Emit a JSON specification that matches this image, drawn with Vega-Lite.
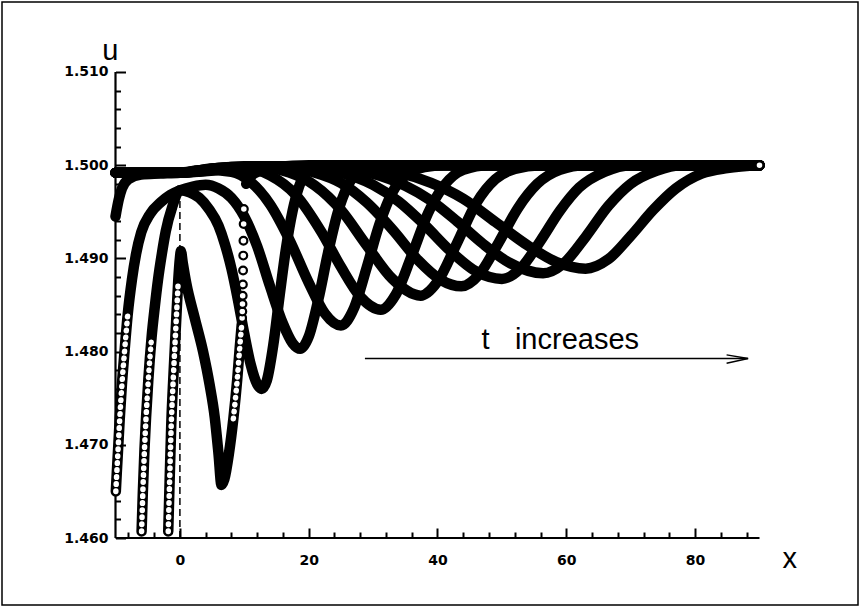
{
  "$schema": "https://vega.github.io/schema/vega-lite/v6.json",
  "width": 856,
  "height": 603,
  "autosize": "none",
  "padding": {"left": 2, "top": 2, "right": 3, "bottom": 3},
  "background": "white",
  "config": {
    "view": {"stroke": "black", "strokeWidth": 1.5},
    "axis": {"domain": false, "grid": false, "tickColor": "black", "labelColor": "black", "labelFont": "DejaVu Sans", "labelFontWeight": "bold", "labelFontSize": 14, "labelFlush": false, "labelOverlap": false, "title": null}
  },
  "datasets": {
    "curves": [
      {"s":"C1a","x":-1.81,"u":1.4607},{"s":"C1a","x":-1.6,"u":1.466},{"s":"C1a","x":-1.35,"u":1.472},{"s":"C1a","x":-1.0,"u":1.4775},{"s":"C1a","x":-0.6,"u":1.483},{"s":"C1a","x":-0.25,"u":1.4877},{"s":"C1a","x":0,"u":1.49},{"s":"C1a","x":0.15,"u":1.4908},{"s":"C1a","x":0.45,"u":1.4895},{"s":"C1a","x":1.0,"u":1.4873},{"s":"C1a","x":2.3,"u":1.4836},{"s":"C1a","x":3.6,"u":1.48},{"s":"C1a","x":4.6,"u":1.4765},{"s":"C1a","x":5.4,"u":1.473},{"s":"C1a","x":6.0,"u":1.469},{"s":"C1a","x":6.45,"u":1.4657},{"s":"C1a","x":6.9,"u":1.4663},{"s":"C1a","x":7.6,"u":1.469},{"s":"C1a","x":8.3,"u":1.4728},{"s":"C1a","x":8.9,"u":1.477},{"s":"C1a","x":9.3,"u":1.4805},{"s":"C1a","x":9.6,"u":1.4829},
      {"s":"C1b","x":10.3,"u":1.498},{"s":"C1b","x":11,"u":1.4988},{"s":"C1b","x":12.5,"u":1.4994},{"s":"C1b","x":15,"u":1.4998},{"s":"C1b","x":20,"u":1.5},{"s":"C1b","x":90,"u":1.5},
      {"s":"C2","x":-5.95,"u":1.4607},{"s":"C2","x":-5.75,"u":1.465},{"s":"C2","x":-5.5,"u":1.4695},{"s":"C2","x":-5.25,"u":1.473},{"s":"C2","x":-4.9,"u":1.477},{"s":"C2","x":-4.4,"u":1.4815},{"s":"C2","x":-3.9,"u":1.4848},{"s":"C2","x":-3.4,"u":1.4877},{"s":"C2","x":-2.8,"u":1.4905},{"s":"C2","x":-2.2,"u":1.4929},{"s":"C2","x":-1.2,"u":1.4955},{"s":"C2","x":0,"u":1.4973},{"s":"C2","x":1.5,"u":1.4971},{"s":"C2","x":3,"u":1.4965},{"s":"C2","x":4.5,"u":1.4953},{"s":"C2","x":6,"u":1.4935},{"s":"C2","x":7,"u":1.4915},{"s":"C2","x":8,"u":1.4889},{"s":"C2","x":9,"u":1.4856},{"s":"C2","x":10,"u":1.4819},{"s":"C2","x":11,"u":1.4786},{"s":"C2","x":12,"u":1.4765},{"s":"C2","x":12.7,"u":1.476},{"s":"C2","x":13.5,"u":1.4769},{"s":"C2","x":14.5,"u":1.4807},{"s":"C2","x":15.5,"u":1.4861},{"s":"C2","x":16.5,"u":1.4912},{"s":"C2","x":17.5,"u":1.4951},{"s":"C2","x":18.5,"u":1.4977},{"s":"C2","x":20,"u":1.4994},{"s":"C2","x":22,"u":1.4999},{"s":"C2","x":25,"u":1.5},{"s":"C2","x":90,"u":1.5},
      {"s":"C3","x":-9.95,"u":1.465},{"s":"C3","x":-9.8,"u":1.467},{"s":"C3","x":-9.6,"u":1.4695},{"s":"C3","x":-9.35,"u":1.4727},{"s":"C3","x":-9.0,"u":1.4765},{"s":"C3","x":-8.6,"u":1.48},{"s":"C3","x":-8.1,"u":1.484},{"s":"C3","x":-7.45,"u":1.4877},{"s":"C3","x":-6.8,"u":1.4905},{"s":"C3","x":-6.0,"u":1.4928},{"s":"C3","x":-4.6,"u":1.4948},{"s":"C3","x":-3,"u":1.496},{"s":"C3","x":-1.5,"u":1.4968},{"s":"C3","x":0,"u":1.4973},{"s":"C3","x":2,"u":1.4977},{"s":"C3","x":4,"u":1.4979},{"s":"C3","x":6,"u":1.4975},{"s":"C3","x":8,"u":1.4965},{"s":"C3","x":10,"u":1.4945},{"s":"C3","x":12,"u":1.4913},{"s":"C3","x":14,"u":1.4870},{"s":"C3","x":16,"u":1.483},{"s":"C3","x":17.5,"u":1.4809},{"s":"C3","x":18.7,"u":1.4803},{"s":"C3","x":20,"u":1.4816},{"s":"C3","x":21.5,"u":1.4856},{"s":"C3","x":23,"u":1.4906},{"s":"C3","x":24.5,"u":1.4949},{"s":"C3","x":26,"u":1.4977},{"s":"C3","x":28,"u":1.4994},{"s":"C3","x":31,"u":1.5},{"s":"C3","x":90,"u":1.5},
      {"s":"C4","x":-10,"u":1.4945},{"s":"C4","x":-9.5,"u":1.4963},{"s":"C4","x":-9,"u":1.4975},{"s":"C4","x":-8,"u":1.4985},{"s":"C4","x":-6,"u":1.499},{"s":"C4","x":-3,"u":1.4991},{"s":"C4","x":0,"u":1.4992},{"s":"C4","x":4,"u":1.4995},{"s":"C4","x":8,"u":1.4993},{"s":"C4","x":11,"u":1.4982},{"s":"C4","x":14,"u":1.4958},{"s":"C4","x":17,"u":1.4920},{"s":"C4","x":20,"u":1.4874},{"s":"C4","x":22.5,"u":1.4841},{"s":"C4","x":25,"u":1.4828},{"s":"C4","x":27,"u":1.4846},{"s":"C4","x":29,"u":1.489},{"s":"C4","x":31,"u":1.4937},{"s":"C4","x":33,"u":1.4971},{"s":"C4","x":35,"u":1.4989},{"s":"C4","x":38,"u":1.4998},{"s":"C4","x":41,"u":1.5},{"s":"C4","x":90,"u":1.5},
      {"s":"C5","x":-10,"u":1.4992},{"s":"C5","x":0,"u":1.4992},{"s":"C5","x":6,"u":1.4997},{"s":"C5","x":10,"u":1.4997},{"s":"C5","x":14,"u":1.4989},{"s":"C5","x":18,"u":1.4968},{"s":"C5","x":22,"u":1.4928},{"s":"C5","x":25,"u":1.4891},{"s":"C5","x":28,"u":1.4859},{"s":"C5","x":31.2,"u":1.4845},{"s":"C5","x":33.5,"u":1.4861},{"s":"C5","x":36,"u":1.4903},{"s":"C5","x":38.5,"u":1.4948},{"s":"C5","x":41,"u":1.4978},{"s":"C5","x":44,"u":1.4995},{"s":"C5","x":48,"u":1.5},{"s":"C5","x":90,"u":1.5},
      {"s":"C6","x":-10,"u":1.4992},{"s":"C6","x":0,"u":1.4992},{"s":"C6","x":6,"u":1.4997},{"s":"C6","x":12,"u":1.4998},{"s":"C6","x":17,"u":1.4992},{"s":"C6","x":21,"u":1.4978},{"s":"C6","x":25,"u":1.4952},{"s":"C6","x":29,"u":1.4914},{"s":"C6","x":33,"u":1.4878},{"s":"C6","x":37.4,"u":1.486},{"s":"C6","x":40,"u":1.4875},{"s":"C6","x":43,"u":1.4916},{"s":"C6","x":46,"u":1.4959},{"s":"C6","x":49,"u":1.4985},{"s":"C6","x":52,"u":1.4996},{"s":"C6","x":56,"u":1.5},{"s":"C6","x":90,"u":1.5},
      {"s":"C7","x":-10,"u":1.4992},{"s":"C7","x":0,"u":1.4992},{"s":"C7","x":8,"u":1.4998},{"s":"C7","x":16,"u":1.4998},{"s":"C7","x":21,"u":1.4992},{"s":"C7","x":25,"u":1.4981},{"s":"C7","x":29,"u":1.496},{"s":"C7","x":33,"u":1.4931},{"s":"C7","x":37,"u":1.4898},{"s":"C7","x":40.5,"u":1.4877},{"s":"C7","x":43.7,"u":1.487},{"s":"C7","x":46.5,"u":1.4883},{"s":"C7","x":49.5,"u":1.4917},{"s":"C7","x":52.5,"u":1.4954},{"s":"C7","x":55.5,"u":1.498},{"s":"C7","x":59,"u":1.4995},{"s":"C7","x":63,"u":1.5},{"s":"C7","x":90,"u":1.5},
      {"s":"C8","x":-10,"u":1.4992},{"s":"C8","x":0,"u":1.4992},{"s":"C8","x":10,"u":1.4999},{"s":"C8","x":20,"u":1.4998},{"s":"C8","x":25,"u":1.4992},{"s":"C8","x":30,"u":1.4979},{"s":"C8","x":34,"u":1.4961},{"s":"C8","x":38,"u":1.4936},{"s":"C8","x":42,"u":1.4908},{"s":"C8","x":46,"u":1.4886},{"s":"C8","x":50,"u":1.4878},{"s":"C8","x":53,"u":1.489},{"s":"C8","x":56,"u":1.4919},{"s":"C8","x":59,"u":1.4951},{"s":"C8","x":62,"u":1.4976},{"s":"C8","x":66,"u":1.4993},{"s":"C8","x":70,"u":1.5},{"s":"C8","x":90,"u":1.5},
      {"s":"C9","x":-10,"u":1.4992},{"s":"C9","x":0,"u":1.4992},{"s":"C9","x":12,"u":1.4999},{"s":"C9","x":24,"u":1.4998},{"s":"C9","x":30,"u":1.4991},{"s":"C9","x":35,"u":1.4978},{"s":"C9","x":39,"u":1.4962},{"s":"C9","x":43,"u":1.494},{"s":"C9","x":47,"u":1.4916},{"s":"C9","x":51,"u":1.4896},{"s":"C9","x":56.4,"u":1.4884},{"s":"C9","x":59.5,"u":1.4894},{"s":"C9","x":63,"u":1.4923},{"s":"C9","x":66.5,"u":1.4956},{"s":"C9","x":70,"u":1.498},{"s":"C9","x":74,"u":1.4994},{"s":"C9","x":78,"u":1.5},{"s":"C9","x":90,"u":1.5},
      {"s":"C10","x":-10,"u":1.4992},{"s":"C10","x":0,"u":1.4992},{"s":"C10","x":14,"u":1.4999},{"s":"C10","x":28,"u":1.4997},{"s":"C10","x":34,"u":1.4992},{"s":"C10","x":39,"u":1.4981},{"s":"C10","x":44,"u":1.4964},{"s":"C10","x":49,"u":1.4939},{"s":"C10","x":54,"u":1.4914},{"s":"C10","x":58.5,"u":1.4896},{"s":"C10","x":63,"u":1.4889},{"s":"C10","x":66.5,"u":1.4899},{"s":"C10","x":70,"u":1.4924},{"s":"C10","x":73.5,"u":1.4952},{"s":"C10","x":77,"u":1.4975},{"s":"C10","x":81,"u":1.4991},{"s":"C10","x":85,"u":1.4997},{"s":"C10","x":90,"u":1.5}
    ],
    "chains": [
      {"s":"C1L","x":-1.81,"u":1.4607},{"s":"C1L","x":-1.6,"u":1.466},{"s":"C1L","x":-1.35,"u":1.472},{"s":"C1L","x":-1.0,"u":1.4775},{"s":"C1L","x":-0.6,"u":1.483},{"s":"C1L","x":-0.25,"u":1.4877},
      {"s":"C1R","x":8.3,"u":1.4728},{"s":"C1R","x":8.9,"u":1.477},{"s":"C1R","x":9.3,"u":1.4805},{"s":"C1R","x":9.6,"u":1.4829},
      {"s":"C2L","x":-5.95,"u":1.4607},{"s":"C2L","x":-5.75,"u":1.465},{"s":"C2L","x":-5.5,"u":1.4695},{"s":"C2L","x":-5.25,"u":1.473},{"s":"C2L","x":-4.9,"u":1.477},{"s":"C2L","x":-4.4,"u":1.4815},
      {"s":"C3L","x":-9.95,"u":1.465},{"s":"C3L","x":-9.8,"u":1.467},{"s":"C3L","x":-9.6,"u":1.4695},{"s":"C3L","x":-9.35,"u":1.4727},{"s":"C3L","x":-9.0,"u":1.4765},{"s":"C3L","x":-8.6,"u":1.48},{"s":"C3L","x":-8.1,"u":1.484}
    ],
    "circles": [
      {"x":9.66,"u":1.4836},{"x":9.69,"u":1.4843},{"x":9.72,"u":1.4851},{"x":9.75,"u":1.486},{"x":9.78,"u":1.4872},{"x":9.81,"u":1.4887},{"x":9.84,"u":1.4903},{"x":9.87,"u":1.4919},{"x":9.9,"u":1.4937},{"x":9.93,"u":1.4953},{"x":90,"u":1.5}
    ]
  },
  "encoding": {
    "x": {"field": "x", "type": "quantitative", "scale": {"domain": [-27.624, 105.295], "nice": false, "zero": false}, "axis": null},
    "y": {"field": "u", "type": "quantitative", "scale": {"domain": [1.4528112, 1.5175107], "nice": false, "zero": false}, "axis": null}
  },
  "layer": [
    {
      "data": {"values": [{"x": -10, "u": 1.46, "x2": 90, "u2": 1.46}, {"x": -10, "u": 1.46, "x2": -10, "u2": 1.51}]},
      "mark": {"type": "rule", "color": "black", "strokeWidth": 2.2},
      "encoding": {"x2": {"field": "x2"}, "y2": {"field": "u2"}}
    },
    {
      "data": {"values": [{"x": 0, "u": 1.46, "u2": 1.4965}]},
      "mark": {"type": "rule", "color": "black", "strokeWidth": 1.5, "strokeDash": [7, 4]},
      "encoding": {"y2": {"field": "u2"}}
    },
    {
      "data": {"name": "curves"},
      "mark": {"type": "line", "color": "black", "strokeWidth": 10.5, "strokeCap": "round", "strokeJoin": "round", "interpolate": "monotone"},
      "encoding": {
        "x": {"field": "x", "type": "quantitative", "scale": {"domain": [-27.624, 105.295], "nice": false, "zero": false},
              "axis": {"orient": "bottom", "offset": -67, "values": [0, 20, 40, 60, 80], "tickSize": -10, "tickWidth": 2, "labelPadding": 25, "labelFontSize": 14, "labelFont": "DejaVu Sans", "labelFontWeight": "bold"}},
        "y": {"field": "u", "type": "quantitative", "scale": {"domain": [1.4528112, 1.5175107], "nice": false, "zero": false},
              "axis": {"orient": "left", "offset": -113.5, "values": [1.46, 1.47, 1.48, 1.49, 1.5, 1.51], "format": ".3f", "tickSize": -10, "tickWidth": 2, "labelPadding": 17.5, "labelFontSize": 14, "labelFont": "DejaVu Sans", "labelFontWeight": "bold"}},
        "detail": {"field": "s"}
      }
    },
    {
      "data": {"name": "chains"},
      "mark": {"type": "line", "color": "white", "strokeWidth": 5.5, "strokeCap": "round", "strokeDash": [0.5, 6.5], "interpolate": "monotone"},
      "encoding": {
        "x": {"field": "x", "type": "quantitative", "scale": {"domain": [-27.624, 105.295], "nice": false, "zero": false},
              "axis": {"orient": "bottom", "offset": -67, "values": [-8, -4, 4, 8, 12, 16, 24, 28, 32, 36, 44, 48, 52, 56, 64, 68, 72, 76, 84, 88], "tickSize": -6, "tickWidth": 2, "labels": false}},
        "y": {"field": "u", "type": "quantitative", "scale": {"domain": [1.4528112, 1.5175107], "nice": false, "zero": false},
              "axis": {"orient": "left", "offset": -113.5, "values": [1.462, 1.464, 1.466, 1.468, 1.472, 1.474, 1.476, 1.478, 1.482, 1.484, 1.486, 1.488, 1.492, 1.494, 1.496, 1.498, 1.502, 1.504, 1.506, 1.508], "tickSize": -5, "tickWidth": 2, "labels": false}},
        "detail": {"field": "s"}
      }
    },
    {
      "data": {"name": "circles"},
      "mark": {"type": "point", "shape": "circle", "size": 60, "filled": false, "fill": "white", "fillOpacity": 1, "stroke": "black", "strokeWidth": 2.2, "opacity": 1}
    },
    {
      "data": {"values": [{"x": 28.73, "u": 1.47926, "x2": 88.2}]},
      "mark": {"type": "rule", "color": "black", "strokeWidth": 1.3},
      "encoding": {"x2": {"field": "x2"}}
    },
    {
      "data": {"values": [{"i": 1, "x": 84.89, "u": 1.47964}, {"i": 2, "x": 88.24, "u": 1.47926}, {"i": 3, "x": 84.89, "u": 1.47875}]},
      "mark": {"type": "line", "color": "black", "strokeWidth": 1.3},
      "encoding": {"order": {"field": "i", "type": "quantitative"}}
    },
    {
      "data": {"values": [{"x": 46.85, "u": 1.48025, "label": "t"}, {"x": 52.02, "u": 1.48025, "label": "increases"}]},
      "mark": {"type": "text", "align": "left", "baseline": "alphabetic", "font": "Liberation Sans", "fontSize": 29, "color": "black"},
      "encoding": {"text": {"field": "label"}}
    },
    {
      "data": {"values": [{"x": -10.8, "u": 1.51129, "label": "u"}, {"x": 94.7, "u": 1.45678, "label": "x"}]},
      "mark": {"type": "text", "align": "center", "baseline": "alphabetic", "font": "Liberation Sans", "fontSize": 29, "color": "black"},
      "encoding": {"text": {"field": "label"}}
    }
  ],
  "resolve": {"axis": {"x": "independent", "y": "independent"}}
}
